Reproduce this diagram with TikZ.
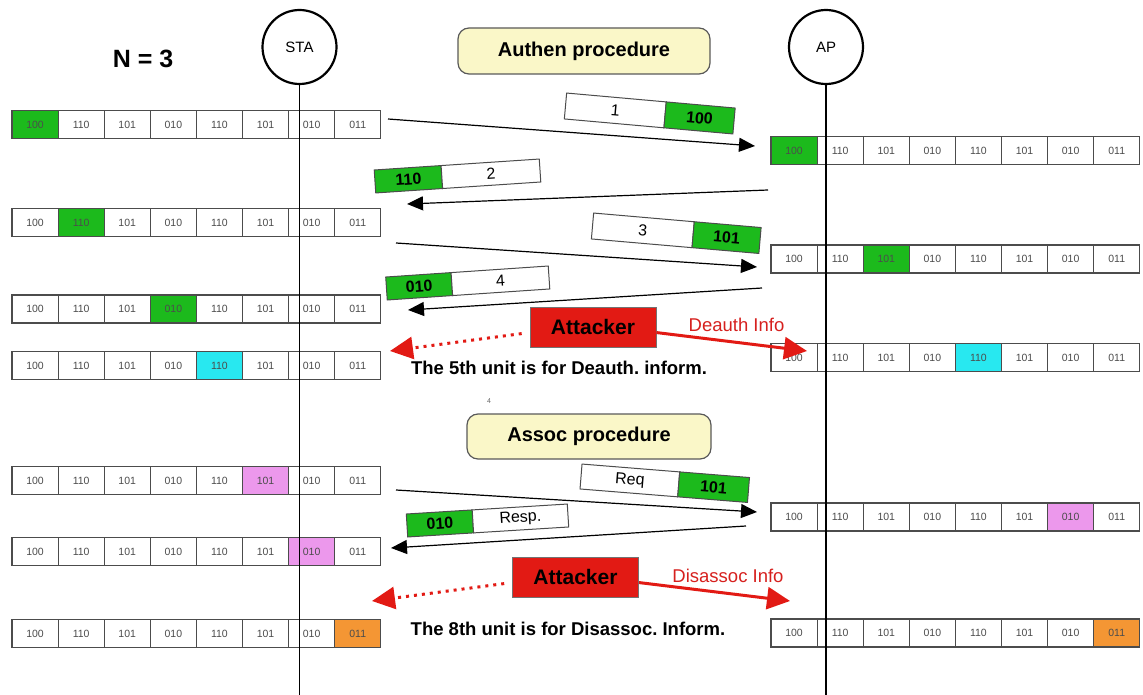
\documentclass[tikz,border=0pt]{standalone}
\usepackage{fontspec}
\setmainfont{Liberation Sans}
\usetikzlibrary{arrows.meta}
\frenchspacing

\definecolor{cellgreen}{RGB}{28,186,28}
\definecolor{cellcyan}{RGB}{40,232,240}
\definecolor{cellpink}{RGB}{236,152,236}
\definecolor{cellorange}{RGB}{244,150,52}
\definecolor{attackred}{RGB}{226,26,20}
\definecolor{attacktext}{RGB}{214,32,30}
\definecolor{phasefill}{RGB}{250,247,200}

\tikzset{
  cellbox/.style={draw=black!70, line width=1.1pt, minimum width=46.1pt,
    minimum height=28pt, inner sep=0pt, text=black!70,
    font=\fontsize{10.5}{12}\selectfont},
  actor/.style={circle, draw, line width=2.2pt, minimum size=74pt,
    inner sep=0pt, font=\fontsize{15}{18}\selectfont},
  lifeline/.style={line width=1.2pt},
  phase/.style={draw=black!65, line width=1.2pt, rounded corners=11pt,
    fill=phasefill, inner sep=0pt, font=\bfseries\fontsize{20}{24}\selectfont},
  msgw/.style={draw=black!70, line width=1pt, fill=white, inner sep=0pt,
    font=\fontsize{16}{19}\selectfont},
  msgg/.style={msgw, fill=cellgreen, font=\bfseries\fontsize{16}{19}\selectfont},
  msgarrow/.style={line width=1.2pt, -{Triangle[length=16pt,width=14pt]}},
  attacker/.style={draw=black!55, fill=attackred, line width=0.8pt,
    minimum width=126pt, minimum height=40pt, inner sep=0pt,
    font=\bfseries\fontsize{21}{24}\selectfont},
  hit/.style={draw=attackred, line width=3pt,
    -{Triangle[length=23pt,width=22pt,fill=attackred]}},
  spoof/.style={hit, dash pattern=on 3pt off 5pt},
  attacklabel/.style={text=attacktext, inner sep=0pt, font=\fontsize{18.5}{22}\selectfont},
  note/.style={inner sep=0pt, font=\bfseries\fontsize{18.5}{22}\selectfont},
}

% one row of eight sequence slots; #4 is the slot in use, #5 its colour
\newcommand\slotrow[5]{%
  \foreach \val [count=\i] in {100,110,101,010,110,101,010,011} {%
    \ifnum\i=#4\relax\def\slotfill{#5}\else\def\slotfill{white}\fi
    \node[cellbox, fill=\slotfill] (#1-\i) at ({#2+(\i-0.5)*46.1}, #3) {\val};
  }%
}

\begin{document}
\begin{tikzpicture}[x=1pt, y=-1pt]
\useasboundingbox (0,0) rectangle (1143,695);

% title and parties
\node[inner sep=0pt, font=\bfseries\fontsize{25}{28}\selectfont] (n) at (143,59) {N = 3};
\node[actor] (sta) at (299.5,47) {STA};
\node[actor] (ap) at (826,47) {AP};
\coordinate (staEnd) at (299.5,695);
\coordinate (apEnd) at (826,695);

% phase labels
\node[phase, minimum width=252pt, minimum height=46pt] (authen) at (584,51) {Authen procedure};
\node[phase, minimum width=244pt, minimum height=45pt] (assoc) at (589,436.5) {Assoc procedure};

% sequence tables held by the station
\slotrow{L1}{12}{124.5}{1}{cellgreen}
\slotrow{L2}{12}{222.5}{2}{cellgreen}
\slotrow{L3}{12}{309}{4}{cellgreen}
\slotrow{L4}{12}{365.5}{5}{cellcyan}
\slotrow{L5}{12}{480.5}{6}{cellpink}
\slotrow{L6}{12}{551.5}{7}{cellpink}
\slotrow{L7}{12}{633.5}{8}{cellorange}

% sequence tables held by the access point
\slotrow{R1}{771}{150.5}{1}{cellgreen}
\slotrow{R2}{771}{259}{3}{cellgreen}
\slotrow{R3}{771}{357.5}{5}{cellcyan}
\slotrow{R4}{771}{517}{7}{cellpink}
\slotrow{R5}{771}{633}{8}{cellorange}

% lifelines
\draw[lifeline] (sta.south) -- (staEnd);
\draw[lifeline] (ap.south) -- (apEnd);

% frames exchanged during authentication
\begin{scope}[shift={(649.75,113.5)}, rotate=-5.09, transform shape]
  \node[msgw, minimum width=100pt, minimum height=26pt] (m1w) at (-34.6,0) {1};
  \node[msgg, minimum width=69.2pt, minimum height=26pt] (m1g) at (50,0) {100};
\end{scope}
\begin{scope}[shift={(457.5,176)}, rotate=3.8, transform shape]
  \node[msgg, minimum width=67pt, minimum height=23pt] (m2g) at (-49.2,0) {110};
  \node[msgw, minimum width=98.4pt, minimum height=23pt] (m2w) at (33.5,0) {2};
\end{scope}
\begin{scope}[shift={(676.25,233.25)}, rotate=-4.95, transform shape]
  \node[msgw, minimum width=101pt, minimum height=26pt] (m3w) at (-33.55,0) {3};
  \node[msgg, minimum width=67.1pt, minimum height=26pt] (m3g) at (50.5,0) {101};
\end{scope}
\begin{scope}[shift={(467.75,283)}, rotate=3.88, transform shape]
  \node[msgg, minimum width=65.5pt, minimum height=23pt] (m4g) at (-48.7,0) {010};
  \node[msgw, minimum width=97.4pt, minimum height=23pt] (m4w) at (32.75,0) {4};
\end{scope}

% frames exchanged during association
\begin{scope}[shift={(664.75,483.25)}, rotate=-4.6, transform shape]
  \node[msgw, minimum width=98pt, minimum height=25pt] (m5w) at (-35,0) {Req};
  \node[msgg, minimum width=70pt, minimum height=25pt] (m5g) at (49,0) {101};
\end{scope}
\begin{scope}[shift={(487.5,520.5)}, rotate=3.55, transform shape]
  \node[msgg, minimum width=66pt, minimum height=23pt] (m6g) at (-47.65,0) {010};
  \node[msgw, minimum width=95.3pt, minimum height=23pt] (m6w) at (33,0) {Resp.};
\end{scope}

% message arrows
\coordinate (a1s) at (388,119);  \coordinate (a1e) at (755,146);
\coordinate (a2s) at (768,190);  \coordinate (a2e) at (407,204);
\coordinate (a3s) at (396,243);  \coordinate (a3e) at (757,267);
\coordinate (a4s) at (762,288);  \coordinate (a4e) at (408,310);
\coordinate (a5s) at (396,490);  \coordinate (a5e) at (757,512);
\coordinate (a6s) at (746,526);  \coordinate (a6e) at (391,548);
\draw[msgarrow] (a1s) -- (a1e);
\draw[msgarrow] (a2s) -- (a2e);
\draw[msgarrow] (a3s) -- (a3e);
\draw[msgarrow] (a4s) -- (a4e);
\draw[msgarrow] (a5s) -- (a5e);
\draw[msgarrow] (a6s) -- (a6e);

% deauthentication attack
\node[attacker] (att1) at (593,327) {Attacker};
\coordinate (deauthL) at (390,351);
\coordinate (deauthR) at (807,351);
\draw[spoof, shorten <=8pt] (att1.185) -- (deauthL);
\draw[hit] (att1.-5) -- (deauthR);
\node[attacklabel] (deauthInfo) at (736.5,325) {Deauth Info};
\node[note] (deauthNote) at (559,368) {The 5th unit is for Deauth. inform.};
\node[inner sep=0pt, text=black!60, font=\fontsize{7}{8}\selectfont] (pg) at (489,401) {4};

% disassociation attack
\node[attacker] (att2) at (575.5,577) {Attacker};
\coordinate (disL) at (372,601);
\coordinate (disR) at (790,601);
\draw[spoof, shorten <=8pt] (att2.185) -- (disL);
\draw[hit] (att2.-5) -- (disR);
\node[attacklabel] (disInfo) at (728,576) {Disassoc Info};
\node[note] (disNote) at (568,629) {The 8th unit is for Disassoc. Inform.};

\end{tikzpicture}
\end{document}
